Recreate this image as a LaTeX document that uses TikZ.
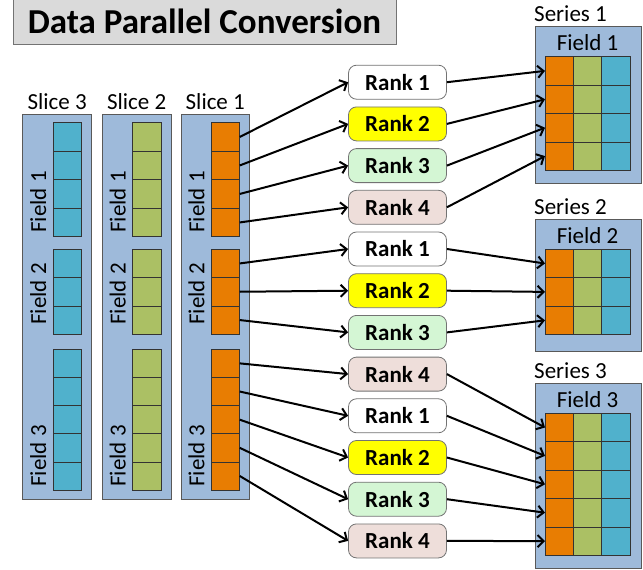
\documentclass[tikz,border=0pt]{standalone}
\usepackage{fontspec}
\setmainfont{Carlito}
\usetikzlibrary{arrows.meta}
\definecolor{boxblue}{RGB}{158,186,218}
\definecolor{orng}{RGB}{232,125,2}
\definecolor{grn}{RGB}{171,192,100}
\definecolor{cyn}{RGB}{80,177,204}
\definecolor{rkyellow}{RGB}{255,255,0}
\definecolor{rkgreen}{RGB}{212,246,212}
\definecolor{rkpink}{RGB}{238,222,218}
\definecolor{rkwhite}{RGB}{255,255,255}
\definecolor{titlegray}{RGB}{218,218,218}
\begin{document}
\begin{tikzpicture}[x=1pt,y=-1pt,
  panel/.style={draw=black!65, fill=boxblue, line width=0.8pt},
  cell/.style={draw=black!80, line width=0.8pt, minimum width=28.5pt, inner sep=0pt, outer sep=0pt},
  rank/.style={draw=black!55, line width=0.8pt, rounded corners=8pt, minimum width=98pt, minimum height=34pt, inner sep=0pt, font=\fontsize{23}{23}\selectfont\bfseries},
  lbl/.style={font=\fontsize{23}{23}\selectfont, inner sep=0pt},
  arr/.style={line width=2pt, -{Straight Barb[length=6pt,width=12pt,line width=2pt]}}
]
\useasboundingbox (0,0) rectangle (643,570);
% title
\node[draw=black!55, fill=titlegray, line width=0.8pt, minimum width=383pt, minimum height=46pt, inner sep=0pt,
  font=\fontsize{35}{35}\selectfont\bfseries] (title) at (204.5,21) {Data Parallel Conversion};
% slice panels
\foreach \s/\xl/\xr/\xc/\col in {3/22.7/91.7/67.5/cyn, 2/102.3/171/146.7/grn, 1/181/249.5/225.5/orng} {
  \draw[panel] (\xl,114.3) rectangle (\xr,499.3);
  \node[lbl] (slice\s) at ({(\xl+\xr)/2},102) {Slice \s};
  \foreach \i in {1,...,4}
    \node[cell, fill=\col, minimum height=28.5pt] (s\s-1-\i) at (\xc,{122.7+28.5*(\i-0.5)}) {};
  \foreach \i in {1,...,3}
    \node[cell, fill=\col, minimum height=28.3pt] (s\s-2-\i) at (\xc,{249.3+28.3*(\i-0.5)}) {};
  \foreach \i in {1,...,5}
    \node[cell, fill=\col, minimum height=28.15pt] (s\s-3-\i) at (\xc,{349.3+28.15*(\i-0.5)}) {};
  \node[lbl, rotate=90] (sf\s-1) at (\xl+15.5,202) {Field 1};
  \node[lbl, rotate=90] (sf\s-2) at (\xl+15.5,294) {Field 2};
  \node[lbl, rotate=90] (sf\s-3) at (\xl+15.5,456) {Field 3};
}
% series panels
\foreach \t/\top/\bot/\rows/\ct in {1/26/183.3/4/56.7, 2/219.3/351.7/3/249.3, 3/383.3/568.3/5/413.3} {
  \draw[panel] (535,\top) rectangle (641.7,\bot);
  \node[lbl, anchor=west] (series\t) at (534,\top-12.5) {Series \t};
  \node[lbl] (sfield\t) at (587.5,\top+16.5) {Field \t};
  \foreach \r in {1,...,\rows} {
    \node[cell, fill=orng, minimum height=28.4pt, minimum width=28.4pt] (t\t-\r-1) at (559.2,{\ct+28.4*(\r-0.5)}) {};
    \node[cell, fill=grn, minimum height=28.4pt, minimum width=28.4pt] (t\t-\r-2) at (587.5,{\ct+28.4*(\r-0.5)}) {};
    \node[cell, fill=cyn, minimum height=28.4pt, minimum width=28.4pt] (t\t-\r-3) at (615.9,{\ct+28.4*(\r-0.5)}) {};
  }
}
% ranks
\foreach \k/\n/\f in {1/1/rkwhite, 2/2/rkyellow, 3/3/rkgreen, 4/4/rkpink,
                      5/1/rkwhite, 6/2/rkyellow, 7/3/rkgreen,
                      8/4/rkpink, 9/1/rkwhite, 10/2/rkyellow, 11/3/rkgreen, 12/4/rkpink}
  \node[rank, fill=\f] (r\k) at (397.5,{82.2+41.7*(\k-1)}) {Rank \n};
% arrows slice 1 -> ranks
\foreach \i in {1,...,4} \draw[arr] (s1-1-\i.east) -- (r\i.west);
\foreach \i/\k in {1/5,2/6,3/7} \draw[arr] (s1-2-\i.east) -- (r\k.west);
\foreach \i/\k in {1/8,2/9,3/10,4/11,5/12} \draw[arr] (s1-3-\i.east) -- (r\k.west);
% arrows ranks -> series
\foreach \k in {1,...,4} \draw[arr] (r\k.east) -- (t1-\k-1.west);
\foreach \k/\r in {5/1,6/2,7/3} \draw[arr] (r\k.east) -- (t2-\r-1.west);
\foreach \k/\r in {8/1,9/2,10/3,11/4,12/5} \draw[arr] (r\k.east) -- (t3-\r-1.west);
\end{tikzpicture}
\end{document}
